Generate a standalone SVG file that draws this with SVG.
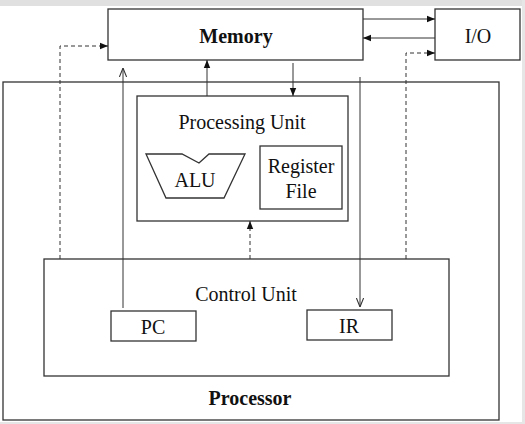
<svg xmlns="http://www.w3.org/2000/svg" width="525" height="424" viewBox="0 0 525 424">
<style>
.box{fill:none;stroke:#333;stroke-width:1.3}
.ln{fill:none;stroke:#333;stroke-width:1}
.ds{fill:none;stroke:#333;stroke-width:1;stroke-dasharray:4,3}
text{font-family:"Liberation Serif","Times New Roman",serif;font-size:20px;fill:#111;text-anchor:middle}
.b{font-weight:bold}
</style>
<defs>
<marker id="fa" viewBox="0 0 10 10" refX="10" refY="5" markerWidth="8" markerHeight="8" orient="auto" markerUnits="userSpaceOnUse"><path d="M0,1 L10,5 L0,9 Z" fill="#111"/></marker>
<marker id="oa" viewBox="0 0 10 10" refX="10" refY="5" markerWidth="9" markerHeight="9" orient="auto" markerUnits="userSpaceOnUse"><path d="M0,1 L10,5 L0,9" fill="none" stroke="#333" stroke-width="1.2"/></marker>
</defs>
<rect x="0" y="0" width="525" height="424" fill="#ffffff"/>
<rect x="0" y="0" width="525" height="6" fill="#e0e0e0"/>
<rect x="522" y="0" width="3" height="424" fill="#e6e6e6"/>
<rect x="0" y="422" width="525" height="2" fill="#e6e6e6"/>
<g id="processor">
<rect class="box" x="3" y="82" width="496" height="338" stroke-width="1.6"/>
<text class="b" x="250" y="405">Processor</text>
</g>
<g id="memory">
<rect class="box" x="108" y="9" width="255" height="51"/>
<text class="b" x="236" y="43">Memory</text>
</g>
<g id="io">
<rect class="box" x="435" y="9" width="85" height="51"/>
<text x="478" y="43">I/O</text>
</g>
<g id="processing-unit">
<rect class="box" x="137" y="96" width="211" height="125"/>
<text x="242" y="129">Processing Unit</text>
</g>
<g id="alu">
<path class="box" d="M146,154 L182,154 L199,163 L209,154 L245,154 L224,198 L166,198 Z" stroke-width="1"/>
<text x="195" y="187">ALU</text>
</g>
<g id="register-file">
<rect class="box" x="260" y="146" width="82" height="63"/>
<text x="301" y="173">Register</text>
<text x="301" y="198">File</text>
</g>
<g id="control-unit">
<rect class="box" x="44" y="259" width="405" height="117"/>
<text x="246" y="301">Control Unit</text>
</g>
<g id="pc">
<rect class="box" x="111" y="311" width="85" height="30"/>
<text x="153" y="334">PC</text>
</g>
<g id="ir">
<rect class="box" x="307" y="310" width="85" height="30"/>
<text x="349" y="333">IR</text>
</g>
<g id="connectors">
<line class="ln" x1="363" y1="19" x2="435" y2="19" marker-end="url(#fa)"/>
<line class="ln" x1="435" y1="38" x2="363" y2="38" marker-end="url(#fa)"/>
<polyline class="ds" points="60,259 60,46 108,46" marker-end="url(#fa)"/>
<polyline class="ds" points="406,259 406,53 435,53" marker-end="url(#fa)"/>
<line class="ln" x1="123" y1="308" x2="123" y2="68" marker-end="url(#oa)"/>
<line class="ln" x1="207" y1="96" x2="207" y2="60" marker-end="url(#fa)"/>
<line class="ln" x1="293" y1="63" x2="293" y2="96" marker-end="url(#fa)"/>
<line class="ln" x1="360" y1="77" x2="360" y2="307" marker-end="url(#oa)"/>
<line class="ds" x1="250" y1="259" x2="250" y2="221" marker-end="url(#fa)"/>
</g>
</svg>
